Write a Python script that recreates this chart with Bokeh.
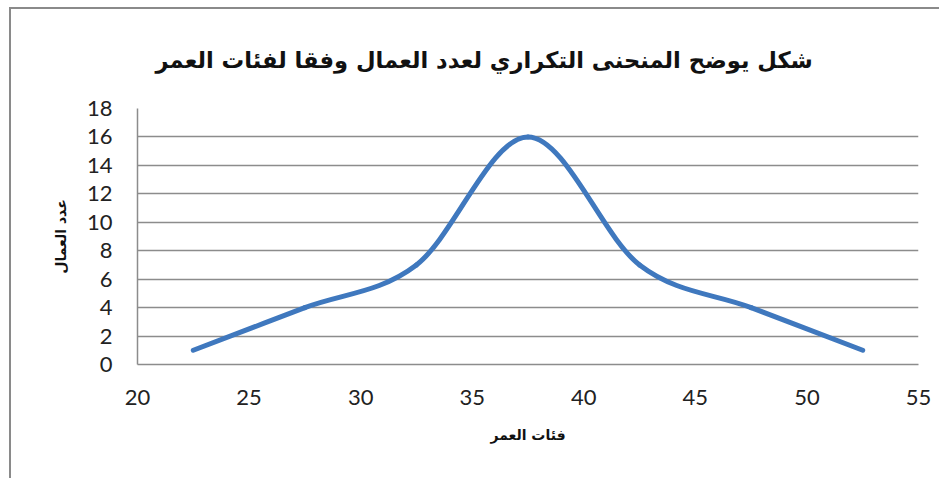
from bokeh.plotting import figure
from bokeh.models import FixedTicker, ColumnDataSource
from bokeh.embed import file_html
from bokeh.resources import INLINE

# Data: class midpoints of age groups and number of workers
ages = [22.5, 27.5, 32.5, 37.5, 42.5, 47.5, 52.5]
workers = [1, 4, 7, 16, 7, 4, 1]
x_ticks = [20, 25, 30, 35, 40, 45, 50, 55]
y_ticks = [0, 2, 4, 6, 8, 10, 12, 14, 16, 18]

title_text = "شكل يوضح المنحنى التكراري لعدد العمال وفقا لفئات العمر"
x_label = "فئات العمر"
y_label = "عدد العمال"

# Smoothed (Excel-style) line: bezier segments with control points from neighbours
n = len(ages)
x0, y0, x1, y1, cx0, cy0, cx1, cy1 = [], [], [], [], [], [], [], []
for i in range(n - 1):
    pm = i - 1 if i > 0 else i
    pp = i + 2 if i + 2 < n else i + 1
    x0.append(ages[i]); y0.append(workers[i])
    x1.append(ages[i + 1]); y1.append(workers[i + 1])
    cx0.append(ages[i] + (ages[i + 1] - ages[pm]) / 6)
    cy0.append(workers[i] + (workers[i + 1] - workers[pm]) / 6)
    cx1.append(ages[i + 1] - (ages[pp] - ages[i]) / 6)
    cy1.append(workers[i + 1] - (workers[pp] - workers[i]) / 6)
src = ColumnDataSource(dict(x0=x0, y0=y0, x1=x1, y1=y1, cx0=cx0, cy0=cy0, cx1=cx1, cy1=cy1))

p = figure(width=930, height=471, output_backend="svg", toolbar_location=None,
           x_range=(20, 55), y_range=(0, 18),
           title=title_text,
           min_border_left=126, min_border_right=23, min_border_top=99, min_border_bottom=116)
p.styles = {"border-left": "2px solid #8a8a8a", "border-top": "2px solid #8a8a8a",
            "margin-left": "9px", "margin-top": "7px"}
p.outline_line_color = None
p.background_fill_color = "white"
p.border_fill_color = "white"

p.title.align = "left"
p.title.offset = 18
p.title.text_font = "DejaVu Sans"
p.title.text_font_style = "bold"
p.title.text_font_size = "22.6px"
p.title.text_color = "#111111"
p.title.standoff = 71

grid_col = "#8c8c8c"
p.xgrid.grid_line_color = None
p.ygrid.grid_line_color = grid_col
p.ygrid.grid_line_width = 1.5
p.ygrid.ticker = FixedTicker(ticks=y_ticks)

p.xaxis.ticker = FixedTicker(ticks=x_ticks)
p.yaxis.ticker = FixedTicker(ticks=y_ticks)
for ax in (p.xaxis, p.yaxis):
    ax.axis_line_color = grid_col
    ax.axis_line_width = 1.5
    ax.major_tick_line_color = None
    ax.minor_tick_line_color = None
    ax.major_tick_out = 0
    ax.major_tick_in = 0
    ax.major_label_text_font = "Lato"
    ax.major_label_text_font_size = "22px"
    ax.major_label_text_color = "#222222"
    ax.axis_label_text_font = "DejaVu Sans"
    ax.axis_label_text_font_style = "bold"
    ax.axis_label_text_font_size = "14px"
    ax.axis_label_text_color = "#111111"
p.yaxis.major_label_standoff = 25
p.xaxis.major_label_standoff = 25
p.xaxis.axis_label = x_label
p.yaxis.axis_label = y_label
p.xaxis.axis_label_standoff = 19
p.yaxis.axis_label_standoff = 15

p.bezier(x0="x0", y0="y0", x1="x1", y1="y1", cx0="cx0", cy0="cy0", cx1="cx1", cy1="cy1",
         source=src, line_color="#3F78BE", line_width=5, line_cap="round")

open("out.html", "w").write(file_html(p, INLINE))
